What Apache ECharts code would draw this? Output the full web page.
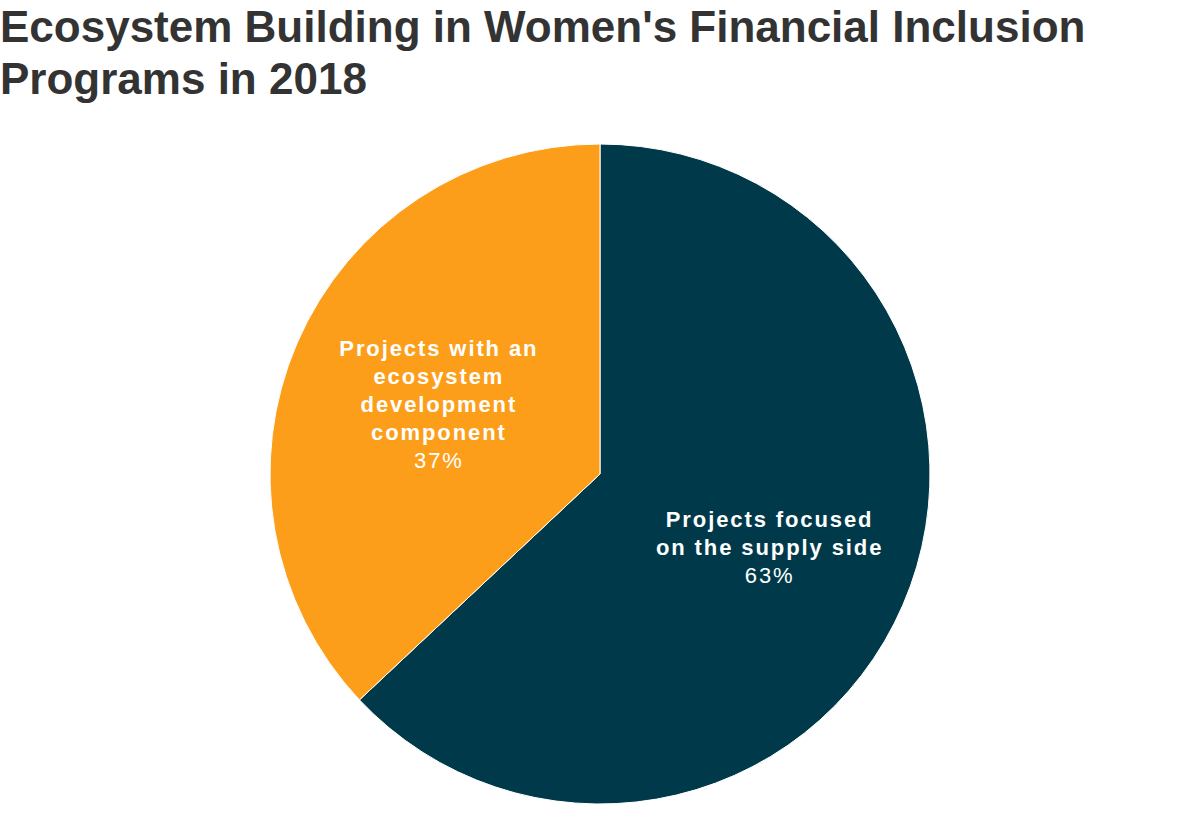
<!DOCTYPE html>
<html>
<head>
<meta charset="utf-8">
<script src="https://cdn.jsdelivr.net/npm/echarts@6/dist/echarts.min.js"></script>
<style>
html, body { margin: 0; padding: 0; background: #fff; }
#chart { width: 1200px; height: 824px; }
</style>
</head>
<body>
<div id="chart"></div>
<script>
const titleText = "Ecosystem Building in Women's Financial Inclusion\nPrograms in 2018";
const categories = ["Projects focused on the supply side", "Projects with an ecosystem development component"];
const labelLines = ["Projects focused\non the supply side", "Projects with an\necosystem\ndevelopment\ncomponent"];
const values = [63, 37];
const colors = ["#003A4A", "#FD9E1A"];

const PIE_CX = 600, PIE_CY = 474;
const LABEL_PUSH = [1.10, 1.045];

const chart = echarts.init(document.getElementById('chart'), null, { renderer: 'svg' });

const data = categories.map((c, i) => ({
  name: c,
  value: values[i],
  itemStyle: { color: colors[i] },
  label: {
    formatter: (p) => labelLines[i].split('\n').map(l => '{b|' + l + '}').join('\n') + '\n{p|' + p.percent.toFixed(0) + '%}'
  }
}));

chart.setOption({
  animation: false,
  title: {
    text: titleText,
    left: 0,
    top: 0,
    padding: 0,
    textStyle: {
      fontFamily: 'Liberation Sans',
      fontSize: 44,
      fontWeight: 'bold',
      color: '#333333',
      lineHeight: 52
    }
  },
  series: [{
    type: 'pie',
    center: [PIE_CX, PIE_CY],
    radius: [0, 330],
    startAngle: 90,
    clockwise: true,
    itemStyle: { borderColor: '#ffffff', borderWidth: 1 },
    label: {
      show: true,
      position: 'inside',
      color: '#ffffff',
      fontFamily: 'Liberation Sans',
      rich: {
        b: { fontFamily: 'Liberation Sans', fontSize: 22, fontWeight: 'bold', color: '#ffffff', lineHeight: 28 },
        p: { fontFamily: 'Liberation Sans', fontSize: 22, fontWeight: 'normal', color: '#ffffff', lineHeight: 28 }
      }
    },
    labelLayout: function (params) {
      const r = params.labelRect;
      const cx = r.x + r.width / 2, cy = r.y + r.height / 2;
      const k = LABEL_PUSH[params.dataIndex] - 1;
      return { dx: (cx - PIE_CX) * k, dy: (cy - PIE_CY) * k };
    },
    labelLine: { show: false },
    emphasis: { disabled: true },
    data: data
  }]
});

function spaceLabels() {
  document.querySelectorAll('#chart svg text').forEach(t => {
    if (getComputedStyle(t).fontSize === '22px') {
      t.style.letterSpacing = '1.9px';
    }
  });
}
chart.on('finished', spaceLabels);
spaceLabels();
setTimeout(spaceLabels, 50);
</script>
</body>
</html>
